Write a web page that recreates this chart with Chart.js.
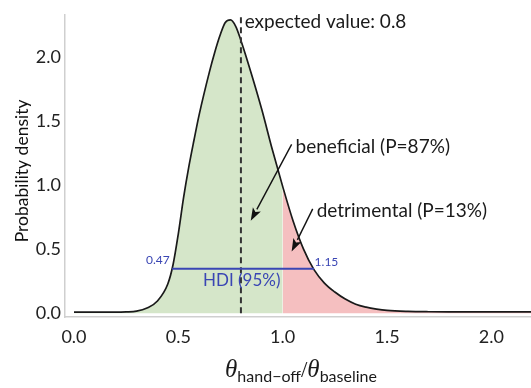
<!DOCTYPE html>
<html><head><meta charset="utf-8">
<script src="https://cdn.jsdelivr.net/npm/chart.js@4.4.1/dist/chart.umd.min.js"></script>
<style>html,body{margin:0;padding:0;background:#fff}#wrap{width:531px;height:388px}</style>
</head><body><div id="wrap"><canvas id="c" width="531" height="388"></canvas></div>
<script>
// ---- data ----
const thetaRatio = [0, 0.05, 0.1, 0.15, 0.2, 0.25, 0.3, 0.35, 0.4, 0.45, 0.475, 0.5, 0.525, 0.55, 0.575, 0.6, 0.65, 0.675, 0.7, 0.725, 0.75, 0.775, 0.8, 0.85, 0.9, 0.95, 1.0, 1.05, 1.1, 1.15, 1.2, 1.25, 1.3, 1.35, 1.4, 1.45, 1.5, 1.6, 1.7, 1.8, 1.9, 2.0, 2.1, 2.2];
const density    = [0.008, 0.008, 0.008, 0.008, 0.008, 0.01, 0.016, 0.04, 0.095, 0.23, 0.38, 0.62, 0.90, 1.14, 1.35, 1.55, 1.89, 2.04, 2.17, 2.27, 2.29, 2.24, 2.13, 1.87, 1.59, 1.28, 0.99, 0.72, 0.50, 0.34, 0.235, 0.165, 0.11, 0.07, 0.047, 0.032, 0.022, 0.014, 0.011, 0.01, 0.01, 0.01, 0.01, 0.01];
const xTickValues = [0, 0.5, 1.0, 1.5, 2.0];
const yTickValues = [0, 0.5, 1.0, 1.5, 2.0];
const expectedValue = 0.8;
const threshold = 1.0;
const hdiBounds = [0.47, 1.15];
const hdiLevel = 0.346;
const hdiLabels = ['0.47', '1.15', 'HDI (95%)'];
const annotationTexts = ['expected value: 0.8', 'beneficial (P=87%)', 'detrimental (P=13%)'];
const yTitle = 'Probability density';
const xTitleParts = ['θ', 'hand−off', '/', 'θ', 'baseline'];

// annotation anchor points in data units
const expectedTextAt = [0.818, 2.225];
const beneficialTextAt = [1.062, 1.25];
const beneficialArrow = [[1.043, 1.318], [0.847, 0.721]];
const detrimentalTextAt = [1.163, 0.752];
const detrimentalArrow = [[1.144, 0.814], [1.043, 0.481]];
const hdiLowLabelAt = [0.459, 0.385];
const hdiHighLabelAt = [1.153, 0.372];
const hdiTextAt = [0.804, 0.209];

const pts = thetaRatio.map((x, i) => ({x, y: density[i]}));
const greenPts = pts.filter(p => p.x <= threshold);
const redPts = pts.filter(p => p.x >= threshold);

const FONT = 'Lato, "Open Sans", sans-serif';
const BLUE = '#3a46b4';

function arrow(ctx, x1, y1, x2, y2) {
  const ang = Math.atan2(y2 - y1, x2 - x1);
  const hl = 13, hw = 4.5;
  const bx = x2 - hl * Math.cos(ang), by = y2 - hl * Math.sin(ang);
  ctx.beginPath(); ctx.moveTo(x1, y1); ctx.lineTo(bx, by);
  ctx.strokeStyle = '#111'; ctx.lineWidth = 1.4; ctx.stroke();
  ctx.beginPath();
  ctx.moveTo(x2, y2);
  ctx.lineTo(bx + hw * Math.sin(ang), by - hw * Math.cos(ang));
  ctx.lineTo(bx + 3 * Math.cos(ang), by + 3 * Math.sin(ang));
  ctx.lineTo(bx - hw * Math.sin(ang), by + hw * Math.cos(ang));
  ctx.closePath(); ctx.fillStyle = '#111'; ctx.fill();
}

const annot = {
  id: 'annot',
  afterDatasetsDraw(chart) {
    const {ctx, chartArea} = chart;
    const xs = chart.scales.x, ys = chart.scales.y;
    const X = v => xs.getPixelForValue(v), Y = v => ys.getPixelForValue(v);
    ctx.save();
    // expected value dashed line
    ctx.beginPath();
    ctx.setLineDash([6, 4]);
    ctx.moveTo(X(expectedValue), Y(0));
    ctx.lineTo(X(expectedValue), chartArea.top);
    ctx.strokeStyle = '#333'; ctx.lineWidth = 2; ctx.stroke();
    ctx.setLineDash([]);
    // HDI line
    ctx.beginPath();
    ctx.moveTo(X(hdiBounds[0]), Y(hdiLevel));
    ctx.lineTo(X(hdiBounds[1]), Y(hdiLevel));
    ctx.strokeStyle = BLUE; ctx.lineWidth = 2; ctx.stroke();
    ctx.fillStyle = BLUE;
    ctx.textBaseline = 'alphabetic';
    ctx.font = '12px ' + FONT;
    ctx.textAlign = 'right';
    ctx.fillText(hdiLabels[0], X(hdiLowLabelAt[0]), Y(hdiLowLabelAt[1]));
    ctx.textAlign = 'left';
    ctx.fillText(hdiLabels[1], X(hdiHighLabelAt[0]), Y(hdiHighLabelAt[1]));
    ctx.font = '17px ' + FONT;
    ctx.textAlign = 'center';
    ctx.fillText(hdiLabels[2], X(hdiTextAt[0]), Y(hdiTextAt[1]));
    // texts
    ctx.fillStyle = '#1a1a1a';
    ctx.font = '19px ' + FONT;
    ctx.textAlign = 'left';
    ctx.fillText(annotationTexts[0], X(expectedTextAt[0]), Y(expectedTextAt[1]));
    ctx.fillText(annotationTexts[1], X(beneficialTextAt[0]), Y(beneficialTextAt[1]));
    ctx.fillText(annotationTexts[2], X(detrimentalTextAt[0]), Y(detrimentalTextAt[1]));
    arrow(ctx, X(beneficialArrow[0][0]), Y(beneficialArrow[0][1]), X(beneficialArrow[1][0]), Y(beneficialArrow[1][1]));
    arrow(ctx, X(detrimentalArrow[0][0]), Y(detrimentalArrow[0][1]), X(detrimentalArrow[1][0]), Y(detrimentalArrow[1][1]));
    // y title
    ctx.save();
    ctx.translate(chartArea.left - 43, (chartArea.top + chartArea.bottom) / 2 + 5);
    ctx.rotate(-Math.PI / 2);
    ctx.font = '17.5px ' + FONT;
    ctx.textAlign = 'center';
    ctx.textBaseline = 'middle';
    ctx.fillText(yTitle, 0, 0);
    ctx.restore();
    // x title
    const segs = [
      {t: xTitleParts[0], f: 'italic 25px "Liberation Serif", serif', dy: 0},
      {t: xTitleParts[1], f: '16px ' + FONT, dy: 5},
      {t: xTitleParts[2], f: '23px "Liberation Serif", serif', dy: 0},
      {t: xTitleParts[3], f: 'italic 25px "Liberation Serif", serif', dy: 0},
      {t: xTitleParts[4], f: '16px ' + FONT, dy: 5}
    ];
    let total = 0;
    segs.forEach(s => { ctx.font = s.f; s.w = ctx.measureText(s.t).width; total += s.w; });
    let cx = 301 - total / 2 + (chartArea.left - 65);
    const base = chartArea.bottom + 60;
    ctx.fillStyle = '#1a1a1a';
    ctx.textAlign = 'left';
    ctx.textBaseline = 'alphabetic';
    segs.forEach(s => { ctx.font = s.f; ctx.fillText(s.t, cx, base + s.dy); cx += s.w; });
    ctx.restore();
  }
};

new Chart(document.getElementById('c'), {
  type: 'line',
  data: {
    datasets: [
      {data: pts, borderColor: '#1a1a1a', borderWidth: 1.7, pointRadius: 0, fill: false, cubicInterpolationMode: 'monotone'},
      {data: greenPts, borderWidth: 0, borderColor: 'rgba(0,0,0,0)', backgroundColor: 'rgb(213,230,201)', pointRadius: 0, fill: 'origin', cubicInterpolationMode: 'monotone'},
      {data: redPts, borderWidth: 0, borderColor: 'rgba(0,0,0,0)', backgroundColor: 'rgb(245,191,192)', pointRadius: 0, fill: 'origin', cubicInterpolationMode: 'monotone'}
    ]
  },
  options: {
    responsive: false,
    devicePixelRatio: 1,
    animation: false,
    layout: {padding: {top: 12, left: 0, right: 0, bottom: 0}},
    plugins: {legend: {display: false}, tooltip: {enabled: false}},
    scales: {
      x: {
        type: 'linear', min: -0.043, max: 2.19,
        afterBuildTicks: s => { s.ticks = xTickValues.map(v => ({value: v})); },
        afterFit: s => { s.height = 71; },
        grid: {display: false, drawTicks: false},
        border: {display: true, color: '#cfcfcf', width: 1.5},
        ticks: {padding: 9, color: '#222', font: {family: FONT, size: 18}, callback: v => Number(v).toFixed(1), maxRotation: 0}
      },
      y: {
        type: 'linear', min: -0.03, max: 2.33,
        afterBuildTicks: s => { s.ticks = yTickValues.map(v => ({value: v})); },
        afterFit: s => { s.width = 65; },
        grid: {display: false, drawTicks: false},
        border: {display: true, color: '#cfcfcf', width: 1.5},
        ticks: {padding: 4, color: '#222', font: {family: FONT, size: 18}, callback: v => Number(v).toFixed(1)}
      }
    }
  },
  plugins: [annot]
});
</script>
</body></html>
